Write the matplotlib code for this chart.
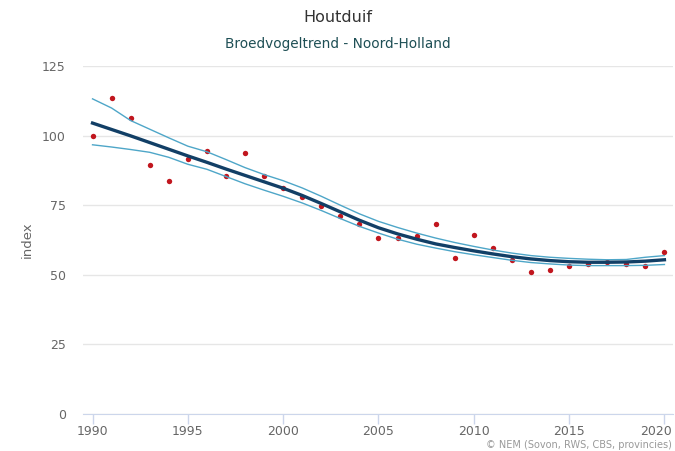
import matplotlib
matplotlib.use('Agg')
import matplotlib.pyplot as plt
import matplotlib.transforms as mtransforms

years = list(range(1990, 2021))

# jaarlijkse indexwaarden (punten)
index_points = [100.0, 113.5, 106.5, 89.5, 83.8, 91.5, 94.4, 85.5, 93.6, 85.5,
                81.1, 77.8, 74.8, 71.0, 68.1, 63.1, 63.1, 64.0, 68.1, 56.2,
                64.4, 59.5, 55.4, 51.0, 51.9, 53.0, 53.7, 54.5, 53.7, 53.0,
                58.3]

# trendlijn
trend = [104.5, 102.2, 99.9, 97.5, 95.1, 92.7, 90.4, 88.0, 85.7, 83.4,
         81.1, 78.5, 75.6, 72.6, 69.6, 66.9, 64.7, 62.8, 61.1, 59.8,
         58.6, 57.5, 56.5, 55.7, 55.1, 54.7, 54.5, 54.5, 54.6, 54.9,
         55.4]

# betrouwbaarheidsband
upper = [113.2, 109.9, 105.4, 102.3, 99.2, 96.2, 94.2, 91.4, 88.5, 86.0,
         83.8, 81.2, 78.2, 75.0, 71.9, 69.2, 67.0, 65.0, 63.2, 61.6,
         60.2, 58.9, 57.8, 56.9, 56.3, 55.9, 55.6, 55.4, 55.5, 56.3,
         56.9]
lower = [96.7, 95.9, 95.0, 94.0, 92.2, 89.7, 87.9, 85.3, 82.7, 80.4,
         78.2, 75.8, 73.1, 70.2, 67.4, 65.0, 62.8, 61.0, 59.6, 58.3,
         57.2, 56.2, 55.2, 54.4, 53.9, 53.5, 53.3, 53.3, 53.3, 53.4,
         53.7]

y_ticks = [0, 25, 50, 75, 100, 125]
x_ticks = [1990, 1995, 2000, 2005, 2010, 2015, 2020]

fig = plt.figure(figsize=(6.75, 4.51), dpi=100)
ax = fig.add_axes([83 / 675, 1 - 414 / 451, 590 / 675, 348 / 451])

ax.scatter(years, index_points, s=15, color='#c1161e', zorder=2, linewidths=0)
ax.plot(years, upper, color='#4ea6c8', lw=1.0, zorder=3)
ax.plot(years, lower, color='#4ea6c8', lw=1.0, zorder=3)
ax.plot(years, trend, color='#123f66', lw=2.4, zorder=4)

ax.set_xlim(1989.5, 2020.45)
ax.set_ylim(0, 125)
ax.set_yticks(y_ticks)
ax.set_xticks(x_ticks)
ax.grid(axis='y', color='#e6e6e6', lw=1)
ax.set_axisbelow(True)

for s in ['top', 'right', 'left']:
    ax.spines[s].set_visible(False)
ax.spines['bottom'].set_color('#ccd6eb')
ax.tick_params(axis='y', length=0, pad=12.5, labelsize=9, labelcolor='#666666')
ax.tick_params(axis='x', length=7, width=1, color='#ccd6eb', pad=1,
               labelsize=9, labelcolor='#666666')

# laatste label binnen de grafiek houden (zoals highcharts)
last = ax.get_xticklabels()[-1]
last.set_transform(last.get_transform() +
                   mtransforms.ScaledTranslation(-8 / 100, 0, fig.dpi_scale_trans))

ax.set_ylabel('index', fontsize=9.5, color='#666666')
ax.yaxis.set_label_coords(-0.084, 0.5)

fig.text(0.5, 1 - 18 / 451, 'Houtduif', ha='center', va='center',
         fontsize=11.5, color='#333333')
fig.text(0.5, 1 - 44 / 451, 'Broedvogeltrend - Noord-Holland', ha='center',
         va='center', fontsize=9.8, color='#1e4f55')
fig.text(672 / 675, 1 - 445 / 451, '\u00a9 NEM (Sovon, RWS, CBS, provincies)',
         ha='right', va='center', fontsize=7, color='#999999')

plt.savefig('out.png', dpi=100)
plt.close('all')
